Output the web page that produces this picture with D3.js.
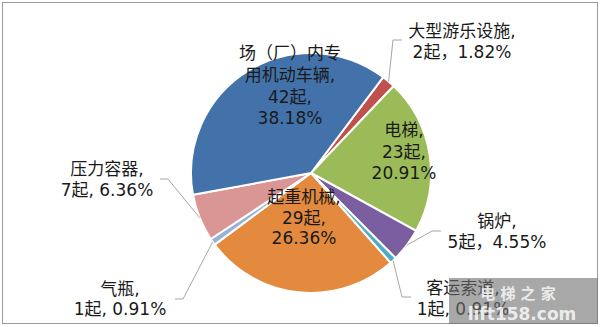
<!DOCTYPE html>
<html>
<head>
<meta charset="utf-8">
<script src="https://cdn.jsdelivr.net/npm/d3@7/dist/d3.min.js"></script>
<style>
  html, body { margin: 0; padding: 0; background: #fff; }
  svg { display: block; }
  text { font-family: "DejaVu Sans", "Noto Sans CJK SC", sans-serif; }
</style>
</head>
<body>
<svg id="chart" width="600" height="327"></svg>
<script>
// ---- data ----
const categories = ["大型游乐设施", "电梯", "锅炉", "客运索道", "起重机械", "气瓶", "压力容器", "场（厂）内专用机动车辆"];
const counts = [2, 23, 5, 1, 29, 1, 7, 42];
const percents = ["1.82%", "20.91%", "4.55%", "0.91%", "26.36%", "0.91%", "6.36%", "38.18%"];

// ---- style / layout ----
const colors = ["#C0504D", "#9BBB59", "#7B5EA0", "#4BACC6", "#E38A3F", "#95B3D7", "#D99694", "#4372AA"];
const cx = 311, cy = 173, R = 120;
const startDeg = 37;

// label layouts (lines of text, anchor x, baselines, leader elbow)
const labelLayout = [
  { lines: ["大型游乐设施,", "2起，1.82%"], x: 462, y: [37, 58], leader: [[393, 40], [402, 40]] },
  { lines: ["电梯,", "23起,", "20.91%"], x: 404, y: [136, 158, 179] },
  { lines: ["锅炉,", "5起，4.55%"], x: 497, y: [227, 248], leader: [[432, 231], [441, 231]] },
  { lines: ["客运索道,", "1起, 0.91%"], x: 463, y: [294, 315], leader: [[402, 297], [411, 297]] },
  { lines: ["起重机械,", "29起,", "26.36%"], x: 304, y: [203, 224, 244] },
  { lines: ["气瓶,", "1起, 0.91%"], x: 120, y: [295, 315], leader: [[183, 299], [175, 299]] },
  { lines: ["压力容器,", "7起, 6.36%"], x: 107, y: [175, 196], leader: [[168, 179], [160, 179]] },
  { lines: ["场（厂）内专", "用机动车辆,", "42起,", "38.18%"], x: 290, y: [59, 81, 103, 124] }
];

const svg = d3.select("#chart");

// chart border
svg.append("rect")
  .attr("x", 2.5).attr("y", 2.5).attr("width", 595).attr("height", 321)
  .attr("fill", "#fff").attr("stroke", "#9a9a9a").attr("stroke-width", 1);

const data = categories.map((c, i) => ({ name: c, value: counts[i], pct: percents[i], color: colors[i], layout: labelLayout[i] }));

const rad = d => d * Math.PI / 180;
const pie = d3.pie().sort(null).value(d => d.value)
  .startAngle(rad(startDeg)).endAngle(rad(startDeg + 360));
const arcs = pie(data);

const arc = d3.arc().innerRadius(0).outerRadius(R);
const edge = d3.arc().innerRadius(R).outerRadius(R);

const g = svg.append("g").attr("transform", `translate(${cx},${cy})`);

g.selectAll("path.slice")
  .data(arcs)
  .join("path")
  .attr("class", "slice")
  .attr("d", arc)
  .attr("fill", d => d.data.color)
  .attr("stroke", "#fff")
  .attr("stroke-width", 2)
  .attr("stroke-linejoin", "round");

// leader lines
const line = d3.line();
arcs.filter(d => d.data.layout.leader).forEach(d => {
  const p = edge.centroid(d);
  const pts = [[cx + p[0], cy + p[1]], ...d.data.layout.leader];
  svg.append("path")
    .attr("d", line(pts))
    .attr("fill", "none")
    .attr("stroke", "#a6a6a6")
    .attr("stroke-width", 1);
});

// labels
arcs.forEach(d => {
  const L = d.data.layout;
  const t = svg.append("text")
    .attr("text-anchor", "middle")
    .attr("font-size", 17)
    .attr("fill", "#1a1a1a");
  L.lines.forEach((s, i) => {
    t.append("tspan").attr("x", L.x).attr("y", L.y[i]).text(s);
  });
});

// watermark
const wm = svg.append("g");
wm.append("rect")
  .attr("x", 449).attr("y", 278).attr("width", 149).attr("height", 46)
  .attr("fill", "#6e6e6e").attr("fill-opacity", 0.6);
wm.append("text")
  .attr("x", 518).attr("y", 299).attr("text-anchor", "middle")
  .attr("font-size", 15).attr("font-weight", "bold")
  .attr("fill", "#ffffff").attr("fill-opacity", 0.8)
  .text("电 梯 之 家");
wm.append("text")
  .attr("x", 522).attr("y", 320).attr("text-anchor", "middle")
  .attr("font-size", 17).attr("font-weight", "bold")
  .attr("fill", "#ffffff").attr("fill-opacity", 0.8)
  .text("lift158.com");
</script>
</body>
</html>
